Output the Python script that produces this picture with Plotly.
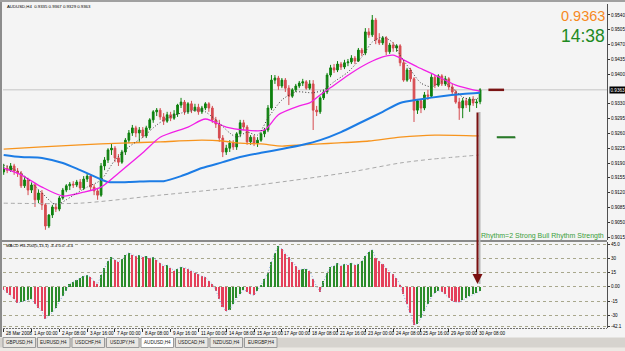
import plotly.graph_objects as go

W, H = 625, 351

# ---------------- data ----------------
symbol_header = "AUDUSD,H4  0.9335 0.9367 0.9329 0.9363"
macd_header = "MACD H4-200(5,13,1) -4.4 0.0 -4.4"

open_ = [0.9169,0.9178,0.9173,0.9183,0.9171,0.9166,0.9136,0.9150,0.9126,0.9138,
         0.9103,0.9119,0.9091,0.9041,0.9067,0.9086,0.9081,0.9107,0.9126,0.9136,
         0.9140,0.9138,0.9145,0.9131,0.9152,0.9159,0.9133,0.9124,0.9114,0.9183,
         0.9197,0.9221,0.9225,0.9202,0.9192,0.9216,0.9244,0.9261,0.9273,0.9261,
         0.9268,0.9254,0.9273,0.9292,0.9311,0.9315,0.9299,0.9289,0.9304,0.9296,
         0.9306,0.9327,0.9334,0.9311,0.9330,0.9315,0.9322,0.9311,0.9320,0.9330,
         0.9320,0.9292,0.9282,0.9249,0.9216,0.9225,0.9237,0.9228,0.9259,0.9285,
         0.9275,0.9240,0.9251,0.9237,0.9244,0.9259,0.9268,0.9320,0.9386,0.9391,
         0.9372,0.9386,0.9367,0.9348,0.9363,0.9372,0.9379,0.9382,0.9367,0.9377,
         0.9315,0.9311,0.9344,0.9358,0.9398,0.9415,0.9410,0.9424,0.9417,0.9427,
         0.9429,0.9438,0.9431,0.9457,0.9450,0.9500,0.9493,0.9528,0.9481,0.9474,
         0.9486,0.9453,0.9469,0.9462,0.9467,0.9427,0.9386,0.9410,0.9389,0.9315,
         0.9337,0.9320,0.9351,0.9348,0.9393,0.9374,0.9396,0.9377,0.9389,0.9370,
         0.9358,0.9334,0.9320,0.9337,0.9327,0.9341,0.9332,0.9335]
high = [0.9188,0.9185,0.9190,0.9188,0.9178,0.9171,0.9157,0.9155,0.9143,0.9143,
        0.9126,0.9126,0.9095,0.9069,0.9091,0.9095,0.9112,0.9131,0.9140,0.9145,
        0.9147,0.9150,0.9152,0.9159,0.9166,0.9164,0.9140,0.9131,0.9190,0.9204,
        0.9225,0.9235,0.9230,0.9211,0.9221,0.9249,0.9268,0.9280,0.9278,0.9275,
        0.9275,0.9278,0.9296,0.9315,0.9320,0.9320,0.9308,0.9311,0.9311,0.9315,
        0.9330,0.9344,0.9339,0.9334,0.9337,0.9330,0.9330,0.9325,0.9334,0.9334,
        0.9325,0.9299,0.9292,0.9256,0.9233,0.9244,0.9244,0.9263,0.9292,0.9292,
        0.9280,0.9256,0.9256,0.9251,0.9263,0.9273,0.9327,0.9398,0.9398,0.9396,
        0.9391,0.9391,0.9374,0.9367,0.9377,0.9384,0.9389,0.9386,0.9386,0.9386,
        0.9325,0.9348,0.9363,0.9403,0.9422,0.9424,0.9431,0.9429,0.9434,0.9436,
        0.9445,0.9443,0.9462,0.9462,0.9509,0.9509,0.9540,0.9533,0.9497,0.9490,
        0.9490,0.9474,0.9476,0.9471,0.9471,0.9434,0.9415,0.9415,0.9393,0.9341,
        0.9341,0.9358,0.9363,0.9400,0.9398,0.9400,0.9400,0.9396,0.9393,0.9377,
        0.9363,0.9344,0.9344,0.9344,0.9346,0.9348,0.9341,0.9367]
low = [0.9162,0.9166,0.9169,0.9162,0.9157,0.9131,0.9131,0.9114,0.9119,0.9086,
       0.9095,0.9079,0.9032,0.9036,0.9060,0.9074,0.9076,0.9103,0.9121,0.9126,
       0.9131,0.9133,0.9126,0.9126,0.9145,0.9126,0.9114,0.9103,0.9110,0.9173,
       0.9190,0.9209,0.9192,0.9183,0.9188,0.9209,0.9237,0.9254,0.9251,0.9240,
       0.9249,0.9249,0.9268,0.9285,0.9301,0.9292,0.9280,0.9285,0.9289,0.9292,
       0.9299,0.9320,0.9304,0.9306,0.9308,0.9311,0.9304,0.9306,0.9315,0.9311,
       0.9285,0.9273,0.9240,0.9204,0.9209,0.9216,0.9221,0.9221,0.9251,0.9268,
       0.9233,0.9233,0.9230,0.9228,0.9240,0.9251,0.9263,0.9315,0.9377,0.9363,
       0.9367,0.9358,0.9327,0.9344,0.9358,0.9367,0.9372,0.9363,0.9363,0.9268,
       0.9301,0.9306,0.9339,0.9353,0.9393,0.9403,0.9405,0.9410,0.9412,0.9419,
       0.9424,0.9424,0.9429,0.9443,0.9445,0.9486,0.9488,0.9471,0.9469,0.9469,
       0.9445,0.9448,0.9453,0.9453,0.9419,0.9382,0.9382,0.9382,0.9287,0.9306,
       0.9308,0.9315,0.9339,0.9344,0.9367,0.9370,0.9372,0.9372,0.9363,0.9353,
       0.9330,0.9292,0.9296,0.9320,0.9311,0.9325,0.9320,0.9329]
close = [0.9178,0.9173,0.9183,0.9171,0.9166,0.9136,0.9150,0.9126,0.9138,0.9103,
         0.9119,0.9091,0.9041,0.9067,0.9086,0.9081,0.9107,0.9126,0.9136,0.9140,
         0.9138,0.9145,0.9131,0.9152,0.9159,0.9133,0.9124,0.9114,0.9183,0.9197,
         0.9221,0.9225,0.9202,0.9192,0.9216,0.9244,0.9261,0.9273,0.9261,0.9268,
         0.9254,0.9273,0.9292,0.9311,0.9315,0.9299,0.9289,0.9304,0.9296,0.9306,
         0.9327,0.9334,0.9311,0.9330,0.9315,0.9322,0.9311,0.9320,0.9330,0.9320,
         0.9292,0.9282,0.9249,0.9216,0.9225,0.9237,0.9228,0.9259,0.9285,0.9275,
         0.9240,0.9251,0.9237,0.9244,0.9259,0.9268,0.9320,0.9386,0.9391,0.9372,
         0.9386,0.9367,0.9348,0.9363,0.9372,0.9379,0.9382,0.9367,0.9377,0.9315,
         0.9311,0.9344,0.9358,0.9398,0.9415,0.9410,0.9424,0.9417,0.9427,0.9429,
         0.9438,0.9431,0.9457,0.9450,0.9500,0.9493,0.9528,0.9481,0.9474,0.9486,
         0.9453,0.9469,0.9462,0.9467,0.9427,0.9386,0.9410,0.9389,0.9315,0.9337,
         0.9320,0.9351,0.9348,0.9393,0.9374,0.9396,0.9377,0.9389,0.9370,0.9358,
         0.9334,0.9320,0.9337,0.9327,0.9341,0.9332,0.9334,0.9363]
bars = list(range(len(close)))

macd_hist = [-3,-6,-9,-13,-17,-16,-15,-14,-13,-18,
             -22,-26,-34,-31,-27,-22,-16,-10,-4,3,
             5,7,9,11,12,10,6,3,12,20,
             27,31,28,26,29,33,36,34,32,33,
             31,32,30,31,28,25,22,23,20,17,
             19,21,20,19,17,15,13,11,10,6,
             3,-4,-13,-21,-26,-24,-18,-12,-8,-3,
             -5,-8,-9,-4,2,8,15,26,36,43,
             40,35,31,26,22,18,18.5,19,17,8,
             0,-5,6,15,21,22,25,22,24,23,
             25,23,24,27,32,37,39,30,27,24,
             20,16,13,9,2,-8,-18,-28,-40,-39,
             -33,-25,-18,-11,-6,-4,-5,-8,-12,-15,
             -16,-16.5,-14,-12,-10,-8,-6,-4.4]

# moving averages (bar index, price)
ma_fast_x = [0,5,11,15,18,21,24,28,32,36,40,44,47,51,57,61,65,67,70,73,76,80,84,89,
             92,95,99,103,106,109,112,114,117,120,123,126,129,132,135,137]
ma_fast_y = [0.9185,0.9166,0.9119,0.9091,0.9103,0.9119,0.9133,0.9150,0.9197,0.9228,
             0.9251,0.9280,0.9296,0.9308,0.9315,0.9292,0.9261,0.9251,0.9263,0.9256,
             0.9296,0.9339,0.9358,0.9356,0.9363,0.9382,0.9405,0.9441,0.9476,0.9488,
             0.9474,0.9445,0.9410,0.9379,0.9370,0.9382,0.9367,0.9346,0.9339,0.9346]
ma_mid_x = [0,5,11,17,23,28,33,40,45,53,58,64,69,75,79,85,88,91,95,100,105,109,
            112,115,119,124,130,135,137]
ma_mid_y = [0.9178,0.9162,0.9133,0.9112,0.9121,0.9133,0.9166,0.9214,0.9251,0.9275,
            0.9294,0.9275,0.9268,0.9268,0.9304,0.9325,0.9332,0.9351,0.9374,0.9403,
            0.9427,0.9441,0.9445,0.9434,0.9417,0.9398,0.9374,0.9363,0.9360]
ma_slow_x = [0,5,11,17,22,27,30,36,42,46,51,57,63,68,74,80,86,91,97,103,109,114,
             120,126,132,137]
ma_slow_y = [0.9209,0.9204,0.9202,0.9190,0.9173,0.9155,0.9145,0.9145,0.9147,0.9147,
             0.9159,0.9178,0.9192,0.9204,0.9214,0.9223,0.9233,0.9244,0.9263,0.9287,
             0.9311,0.9332,0.9341,0.9348,0.9353,0.9356]
ma_orange_x = [0,11,22,34,45,57,63,68,74,80,86,91,95,105,114,124,137]
ma_orange_y = [0.9223,0.9228,0.9233,0.9237,0.9240,0.9244,0.9242,0.9237,0.9235,
               0.9230,0.9233,0.9235,0.9237,0.9242,0.9251,0.9256,0.9254]
ma_long_x = [0,22,45,68,86,100,114,123,137]
ma_long_y = [0.9095,0.9095,0.9114,0.9133,0.9152,0.9169,0.9190,0.9199,0.9209]

price_ticks = [0.9540,0.9505,0.9470,0.9435,0.9400,0.9330,0.9295,0.9260,0.9225,
               0.9190,0.9155,0.9120,0.9085,0.9050,0.9015]
macd_tick_vals = [45.0,30,15,0,-15,-30,-42.1]
macd_tick_text = ["45.0","30","15","0.00","-15","-30","-42.1"]
time_tick_bars = [0,8,16,24,32,40,48,56,64,72,80,88,96,104,112,120,128,136]
time_tick_text = ["28 Mar 2008","1 Apr 00:00","2 Apr 08:00","3 Apr 16:00","7 Apr 00:00",
                  "8 Apr 08:00","9 Apr 16:00","11 Apr 00:00","14 Apr 08:00","15 Apr 16:00",
                  "17 Apr 00:00","18 Apr 08:00","21 Apr 16:00","23 Apr 00:00","24 Apr 08:00",
                  "25 Apr 16:00","29 Apr 00:00","30 Apr 08:00"]
tab_labels = ["GBPUSD,H4","EURUSD,H4","USDCHF,H4","USDJPY,H4","AUDUSD,H4",
              "USDCAD,H4","NZDUSD,H4","EURGBP,H4"]
active_tab = "AUDUSD,H4"
rhythm_text = "Rhythm=2 Strong Bull Rhythm Strength"
big_price_text = "0.9363"
countdown_text = "14:38"
resistance_level = 0.9363
support_level = 0.9251

# ---------------- geometry helpers (pixel -> paper) ----------------
def fx(p):
    return p / W

def fy(p):
    return 1 - p / H

price_range = [0.90079, 0.95660]
macd_range = [-43.4, 47.2]
x_range = [-0.2, 173.5]
BG = "#F4F4F4"
FONT = "Liberation Sans, Arial, sans-serif"
NARROW = "Liberation Sans Narrow, Liberation Sans, Arial, sans-serif"

fig = go.Figure()

fig.add_trace(go.Candlestick(
    x=bars, open=open_, high=high, low=low, close=close,
    increasing=dict(line=dict(color="#0E800E", width=1), fillcolor="#0E800E"),
    decreasing=dict(line=dict(color="#D64B50", width=1), fillcolor="#D64B50"),
    whiskerwidth=0, xaxis="x", yaxis="y", showlegend=False, hoverinfo="skip"))

line_specs = [
    (ma_long_x, ma_long_y, "#A9A9A9", 1, "4px,3px"),
    (ma_orange_x, ma_orange_y, "#F7941D", 1.3, "solid"),
    (ma_slow_x, ma_slow_y, "#1C7CE5", 2, "solid"),
    (ma_mid_x, ma_mid_y, "#F21FE6", 1.3, "solid"),
    (ma_fast_x, ma_fast_y, "#3A3A3A", 1, "1px,2px"),
]
for xs, ys, col, wd, dash in line_specs:
    fig.add_trace(go.Scatter(x=xs, y=ys, mode="lines",
                             line=dict(color=col, width=wd, dash=dash, shape="spline", smoothing=0.7),
                             xaxis="x", yaxis="y", hoverinfo="skip", showlegend=False))

hist_colors = []
for i, v in enumerate(macd_hist):
    if i > 0 and v > macd_hist[i - 1]:
        hist_colors.append("#2B8C2B")
    else:
        hist_colors.append("#E4405A")
fig.add_trace(go.Bar(x=bars, y=macd_hist, marker=dict(color=hist_colors, line=dict(width=0)),
                     width=0.45, xaxis="x2", yaxis="y2", hoverinfo="skip", showlegend=False))
fig.add_trace(go.Scatter(x=bars, y=macd_hist, mode="lines",
                         line=dict(color="#86A6DC", width=1, dash="1px,2px"),
                         xaxis="x2", yaxis="y2", hoverinfo="skip", showlegend=False))

shapes = []
# bid line
shapes.append(dict(type="line", xref="paper", yref="y", x0=fx(3), x1=fx(607),
                   y0=close[-1], y1=close[-1], line=dict(color="#C4C4C4", width=1), layer="below"))
# panel separator
shapes.append(dict(type="rect", xref="paper", yref="paper", x0=0, x1=fx(607), y0=fy(242), y1=fy(240),
                   fillcolor="#8A8A8A", line=dict(width=0)))
# bottom of indicator window
shapes.append(dict(type="line", xref="paper", yref="paper", x0=0, x1=fx(607), y0=fy(328.5), y1=fy(328.5),
                   line=dict(color="#707070", width=1, dash="2px,1px")))
# frame
shapes.append(dict(type="rect", xref="paper", yref="paper", x0=0, x1=fx(2), y0=fy(337), y1=1,
                   fillcolor="#8C8C8C", line=dict(width=0)))
shapes.append(dict(type="rect", xref="paper", yref="paper", x0=0, x1=1, y0=fy(2), y1=1,
                   fillcolor="#A0A0A0", line=dict(width=0)))
# indicator level segments
shapes.append(dict(type="line", xref="x", yref="y", x0=139.4, x1=143.9,
                   y0=resistance_level, y1=resistance_level, line=dict(color="#7A1414", width=2.5)))
shapes.append(dict(type="line", xref="x", yref="y", x0=142.0, x1=147.3,
                   y0=support_level - 0.00012, y1=support_level - 0.00012, line=dict(color="#B8C8B8", width=1.5)))
shapes.append(dict(type="line", xref="x", yref="y", x0=141.8, x1=147.1,
                   y0=support_level, y1=support_level, line=dict(color="#2A7A2A", width=2)))
# arrow shadow
shapes.append(dict(type="line", xref="paper", yref="paper", x0=fx(479.5), x1=fx(479.5), y0=fy(112), y1=fy(284),
                   line=dict(color="#B4B4B4", width=2)))
# tab bar
shapes.append(dict(type="rect", xref="paper", yref="paper", x0=0, x1=1, y0=0, y1=fy(337.5),
                   fillcolor="#D6D3CE", line=dict(width=0)))
shapes.append(dict(type="rect", xref="paper", yref="paper", x0=0, x1=1, y0=0, y1=fy(347.5),
                   fillcolor="#ECE9E4", line=dict(width=0)))

annotations = []
# time axis labels, left-aligned at their bar like the terminal draws them
for b, lab in zip(time_tick_bars, time_tick_text):
    annotations.append(dict(text=lab, xref="x2", yref="paper", x=b, y=fy(333.5), showarrow=False,
                            xanchor="left", yanchor="middle", xshift=0.5,
                            font=dict(size=4.6, color="#000", family=NARROW)))

for i, lab in enumerate(tab_labels):
    x0 = 3 + i * 34.5
    x1 = x0 + 32.5
    active = lab == active_tab
    shapes.append(dict(type="rect", xref="paper", yref="paper", x0=fx(x0), x1=fx(x1),
                       y0=fy(347.5), y1=fy(337.5),
                       fillcolor="#FFFFFF" if active else "#E9E7E3",
                       line=dict(color="#9A9A9A", width=1)))
    annotations.append(dict(text=lab, xref="paper", yref="paper", x=fx((x0 + x1) / 2), y=fy(342.5),
                            showarrow=False, font=dict(size=4.6, color="#202020", family=FONT),
                            xanchor="center", yanchor="middle"))

annotations += [
    dict(text=symbol_header, xref="paper", yref="paper", x=fx(5), y=fy(6.5), showarrow=False,
         xanchor="left", yanchor="middle", font=dict(size=4.3, color="#000", family=FONT)),
    dict(text=macd_header, xref="paper", yref="paper", x=fx(4), y=fy(245.5), showarrow=False,
         xanchor="left", yanchor="middle", font=dict(size=4.3, color="#000", family=FONT)),
    dict(text=big_price_text, xref="paper", yref="paper", x=fx(607), y=fy(16), showarrow=False,
         xanchor="right", yanchor="middle", font=dict(size=14.5, color="#F7891E", family=FONT)),
    dict(text=countdown_text, xref="paper", yref="paper", x=fx(607), y=fy(35.5), showarrow=False,
         xanchor="right", yanchor="middle", font=dict(size=17.5, color="#1E8A22", family=FONT)),
    dict(text=rhythm_text, xref="paper", yref="paper", x=fx(606), y=fy(236), showarrow=False,
         xanchor="right", yanchor="middle", font=dict(size=7, color="#3A9E3A", family=FONT)),
    dict(text=f"{close[-1]:.4f}", xref="paper", yref="y", x=fx(608.5), y=close[-1], showarrow=False,
         xanchor="left", yanchor="middle", bgcolor="#000000", borderpad=0.5,
         font=dict(size=4.6, color="#FFFFFF", family=FONT)),
    # signal arrow
    dict(text="", xref="paper", yref="paper", x=fx(477.5), y=fy(284), ax=0, ay=-173,
         showarrow=True, arrowhead=2, arrowsize=1, arrowwidth=2, arrowcolor="#7A1010"),
]

fig.update_layout(
    width=W, height=H, margin=dict(l=0, r=0, t=0, b=0, pad=0),
    paper_bgcolor=BG, plot_bgcolor=BG, showlegend=False, bargap=0,
    font=dict(family=FONT, color="#000"),
    xaxis=dict(domain=[fx(3), fx(607)], range=x_range, anchor="y", showticklabels=False,
               showgrid=False, zeroline=False, showline=False, ticks="",
               rangeslider=dict(visible=False), automargin=False),
    xaxis2=dict(domain=[fx(3), fx(607)], range=x_range, matches="x", anchor="y2",
                tickmode="array", tickvals=time_tick_bars, ticktext=time_tick_text,
                showticklabels=False,
                ticks="outside", ticklen=3, tickcolor="#333", tickwidth=1,
                showgrid=False, zeroline=False, showline=False, automargin=False),
    yaxis=dict(domain=[fy(240), fy(4)], range=price_range, side="right", anchor="x",
               tickmode="array", tickvals=price_ticks, ticktext=[f"{v:.4f}" for v in price_ticks],
               ticks="outside", ticklen=2, tickcolor="#333", tickfont=dict(size=4.6, color="#000"),
               showgrid=False, zeroline=False, showline=True, linecolor="#505050", linewidth=1,
               automargin=False),
    yaxis2=dict(domain=[fy(328), fy(242)], range=macd_range, side="right", anchor="x2",
                tickmode="array", tickvals=macd_tick_vals, ticktext=macd_tick_text,
                ticks="outside", ticklen=2, tickcolor="#333", tickfont=dict(size=4.6, color="#000"),
                showgrid=True, gridcolor="#A8A78C", griddash="dot", gridwidth=1,
                zeroline=False, showline=True, linecolor="#505050", linewidth=1, automargin=False),
    shapes=shapes, annotations=annotations,
)

fig.write_html("out.html")
